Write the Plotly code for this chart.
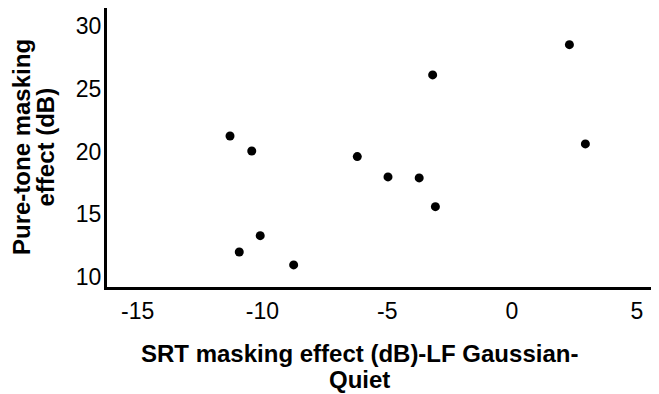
import plotly.graph_objects as go

srt_masking = [-11.30, -10.43, -10.09, -10.93, -8.75, -3.18, -6.20, -4.97, -3.72, -3.07, 2.30, 2.94]
puretone_masking = [21.23, 20.04, 13.29, 11.99, 10.96, 26.10, 19.59, 17.97, 17.89, 15.60, 28.51, 20.60]
x_ticks = [-15, -10, -5, 0, 5]
y_ticks = [10, 15, 20, 25, 30]
x_title_lines = ["SRT masking effect (dB)-LF Gaussian-", "Quiet"]
y_title_lines = ["Pure-tone masking", "effect (dB)"]

W, H = 651, 386
ml, mr, mt, mb = 99, 4, 0, 107
pw, ph = W - ml - mr, H - mt - mb

def px(fx):
    return (fx - ml) / pw

def py(fy):
    return (H - mb - fy) / ph

fig = go.Figure(go.Scatter(
    x=srt_masking, y=puretone_masking, mode="markers",
    marker=dict(color="black", size=9),
))

font_fam = "Liberation Sans, Arial, sans-serif"
fig.update_layout(
    width=W, height=H,
    margin=dict(l=ml, r=mr, t=mt, b=mb),
    plot_bgcolor="white", paper_bgcolor="white",
    showlegend=False,
    font=dict(family=font_fam, color="black", size=23),
)
fig.update_xaxes(
    range=[-16.23, 5.73], tickvals=x_ticks, ticktext=[str(v) for v in x_ticks],
    showgrid=False, zeroline=False, showline=True, linecolor="black", linewidth=3,
    ticks="", ticklabelstandoff=1, tickfont=dict(size=23),
)
fig.update_yaxes(
    range=[9.2, 31.43], tickvals=y_ticks, ticktext=[str(v) for v in y_ticks],
    showgrid=False, zeroline=False, showline=True, linecolor="black", linewidth=3,
    ticks="", ticklabelstandoff=-2, tickfont=dict(size=23),
)
for line, fy in zip(x_title_lines, [345, 371]):
    fig.add_annotation(
        text=f"<b>{line}</b>", xref="paper", yref="paper",
        x=px(351), y=py(fy), xanchor="center", yanchor="middle",
        showarrow=False, font=dict(size=24),
    )
for line, fx in zip(y_title_lines, [13.5, 37]):
    fig.add_annotation(
        text=f"<b>{line}</b>", xref="paper", yref="paper",
        x=px(fx), y=py(139.5), xanchor="center", yanchor="middle",
        textangle=-90, showarrow=False, font=dict(size=24),
    )
fig.write_html("out.html")
